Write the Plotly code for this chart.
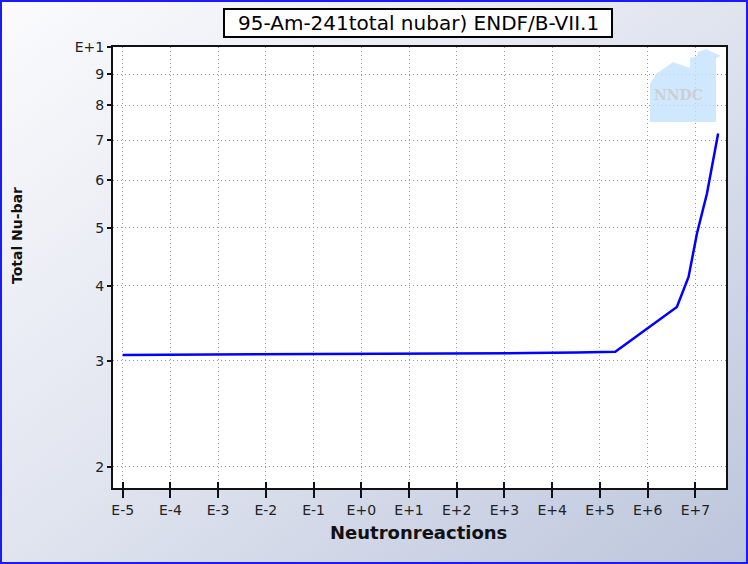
import base64
import plotly.graph_objects as go

# ---- data ----
energy = [1e-5, 0.02, 0.25, 3.0e3, 3.3e4, 2.1e5, 4.1e6, 7.2e6, 1.08e7, 1.75e7, 3.0e7]
nubar = [3.07, 3.077, 3.085, 3.092, 3.10, 3.108, 3.69, 4.14, 4.89, 5.70, 7.18]

x_tickvals = [1e-5, 1e-4, 1e-3, 1e-2, 1e-1, 1e0, 1e1, 1e2, 1e3, 1e4, 1e5, 1e6, 1e7]
x_ticktext = ["E-5", "E-4", "E-3", "E-2", "E-1", "E+0", "E+1", "E+2", "E+3", "E+4", "E+5", "E+6", "E+7"]
y_tickvals = [2, 3, 4, 5, 6, 7, 8, 9, 10]
y_ticktext = ["2", "3", "4", "5", "6", "7", "8", "9", "E+1"]

title_text = "95-Am-241total nubar) ENDF/B-VII.1"
x_title = "Neutronreactions"
y_title = "Total Nu-bar"

# ---- layout geometry ----
W, H = 748, 564
L, R, T, B = 113, 22, 47, 76
PW, PH = W - L - R, H - T - B
x_range = [-5.203, 7.642]
y_range = [0.2656, 1.0]


def px(x):
    return (x - L) / PW


def py(y):
    return (H - B - y) / PH


FONT = "DejaVu Sans"

fig = go.Figure()
fig.add_trace(go.Scatter(x=energy, y=nubar, mode="lines",
                         line=dict(color="#0000ff", width=2.5),
                         hoverinfo="skip", showlegend=False))
# invisible copy to carry the inside tick marks axis
fig.add_trace(go.Scatter(x=energy, y=nubar, mode="lines", xaxis="x2",
                         line=dict(color="rgba(0,0,0,0)", width=0),
                         hoverinfo="skip", showlegend=False))

# background gradient image
svg = ('<svg xmlns="http://www.w3.org/2000/svg" width="748" height="564">'
       '<defs><linearGradient id="g" x1="0" y1="0" x2="1" y2="1">'
       '<stop offset="0" stop-color="#fbfbfd"/>'
       '<stop offset="0.5" stop-color="#e0e4ef"/>'
       '<stop offset="1" stop-color="#bcc5dc"/>'
       '</linearGradient>'
       '</defs>'
       '<rect width="748" height="564" fill="url(#g)"/></svg>')
uri = "data:image/svg+xml;base64," + base64.b64encode(svg.encode()).decode()

fig.add_layout_image(dict(source=uri, xref="paper", yref="paper",
                          x=px(0), y=py(0), sizex=W / PW, sizey=H / PH,
                          xanchor="left", yanchor="top", sizing="stretch",
                          layer="below"))

shapes = []
# white plot area over gradient
shapes.append(dict(type="rect", xref="paper", yref="paper", x0=0, x1=1, y0=0, y1=1,
                   fillcolor="white", line=dict(width=0), layer="below"))
# NNDC logo (decorative)
logo_pts = [(650, 122), (650, 84), (656, 74), (673, 62), (684, 66), (690, 68),
            (690, 58), (697, 56), (698, 52), (706, 49), (721, 56), (716, 58),
            (716, 122)]
path = "M " + " L ".join(f"{px(a):.5f},{py(b):.5f}" for a, b in logo_pts) + " Z"
shapes.append(dict(type="path", xref="paper", yref="paper", path=path,
                   fillcolor="rgba(196,226,252,0.8)", line=dict(width=0), layer="above"))
# title box
shapes.append(dict(type="rect", xref="paper", yref="paper",
                   x0=px(224), x1=px(612), y0=py(37), y1=py(9),
                   fillcolor="white", line=dict(color="black", width=2), layer="above"))
# outer blue frame
shapes.append(dict(type="rect", xref="paper", yref="paper",
                   x0=px(1), x1=px(W - 1), y0=py(H - 1), y1=py(1),
                   line=dict(color="#1a1aff", width=2), fillcolor="rgba(0,0,0,0)",
                   layer="above"))

annotations = [
    dict(text=title_text, xref="paper", yref="paper", x=px(418), y=py(23),
         showarrow=False, font=dict(family=FONT, size=20, color="black"),
         xanchor="center", yanchor="middle"),
    dict(text="<b>" + x_title + "</b>", xref="paper", yref="paper", x=px(418), y=py(532),
         showarrow=False, font=dict(family=FONT, size=18, color="#111"),
         xanchor="center", yanchor="middle"),
    dict(text="<b>" + y_title + "</b>", xref="paper", yref="paper", x=px(17), y=py(236),
         showarrow=False, textangle=-90, font=dict(family=FONT, size=14, color="#111"),
         xanchor="center", yanchor="middle"),
    dict(text="<b>NNDC</b>", xref="paper", yref="paper", x=px(678), y=py(95),
         showarrow=False, font=dict(family="DejaVu Serif", size=14, color="rgba(205,205,210,0.95)"),
         xanchor="center", yanchor="middle"),
]

axis_common = dict(type="log", showline=True, linecolor="#111", linewidth=2,
                   mirror=True, tickfont=dict(family=FONT, size=14, color="#222"),
                   gridcolor="#9a9a9a", griddash="1px,3px", gridwidth=1, zeroline=False)

fig.update_layout(
    width=W, height=H,
    margin=dict(l=L, r=R, t=T, b=B, pad=0),
    paper_bgcolor="#e4e7f0", plot_bgcolor="rgba(0,0,0,0)",
    showlegend=False,
    xaxis=dict(**axis_common, range=x_range, tickvals=x_tickvals, ticktext=x_ticktext,
               ticks="outside", ticklen=8, tickwidth=2, tickcolor="#111", showgrid=True),
    xaxis2=dict(type="log", overlaying="x", anchor="y", side="bottom", range=x_range,
                tickvals=x_tickvals, ticks="inside", ticklen=6, tickwidth=2, tickcolor="#111",
                showticklabels=False, showgrid=False, showline=False, zeroline=False),
    yaxis=dict(**axis_common, range=y_range, tickvals=y_tickvals, ticktext=y_ticktext,
               ticks="outside", ticklen=4, tickwidth=2, tickcolor="#111", showgrid=True),
    shapes=shapes,
    annotations=annotations,
)

fig.write_html("out.html", config={"displayModeBar": False},
               post_script="document.body.style.margin='0';document.body.style.padding='0';")
